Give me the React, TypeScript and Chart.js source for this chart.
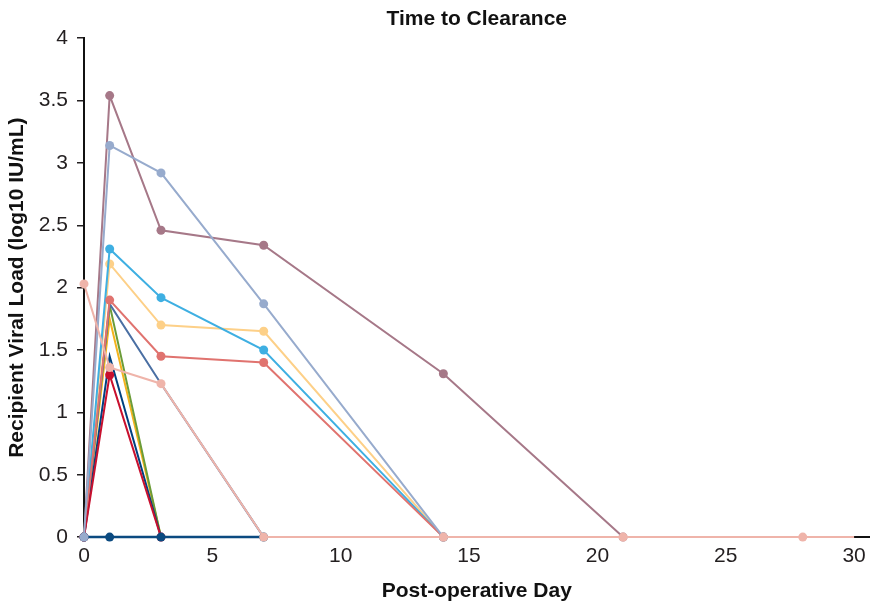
import React, { useEffect, useRef } from "react";
import { Chart, registerables } from "chart.js";

Chart.register(...registerables);

// ---- data ----
const xTicks = [0, 5, 10, 15, 20, 25, 30];
const yTicks = [0, 0.5, 1, 1.5, 2, 2.5, 3, 3.5, 4];

const pinkDays = [0, 1, 3, 7, 14, 21, 28, 30];
const pinkVals = [2.03, 1.36, 1.23, 0, 0, 0, 0, 0];

const blueGrayDays = [0, 1, 3, 7, 14];
const blueGrayVals = [0, 3.14, 2.92, 1.87, 0];

const baselineDays = [0, 1, 3, 7];
const baselineVals = [0, 0, 0, 0];

const crimsonDays = [0, 1, 3];
const crimsonVals = [0, 1.3, 0];

const coralDays = [0, 1, 3, 7, 14];
const coralVals = [0, 1.9, 1.45, 1.4, 0];

const mauveDays = [0, 1, 3, 7, 14, 21];
const mauveVals = [0, 3.54, 2.46, 2.34, 1.31, 0];

const cyanDays = [0, 1, 3, 7, 14];
const cyanVals = [0, 2.31, 1.92, 1.5, 0];

const orangeDays = [0, 1, 3, 7, 14];
const orangeVals = [0, 2.19, 1.7, 1.65, 0];

const navyDays = [0, 1, 3];
const navyVals = [0, 1.45, 0];

const slateDays = [0, 1, 3, 7];
const slateVals = [0, 1.87, 1.23, 0];

const greenDays = [0, 1, 3];
const greenVals = [0, 1.86, 0];

const goldDays = [0, 1, 3];
const goldVals = [0, 1.75, 0];

const FONT = "'Liberation Sans', Arial, Helvetica, sans-serif";

function pts(days: number[], vals: number[]) {
  return days.map((d, i) => ({ x: d, y: vals[i] }));
}

function ds(label: string, days: number[], vals: number[], color: string, radius: number | number[], width = 2) {
  return {
    label,
    data: pts(days, vals),
    borderColor: color,
    backgroundColor: color,
    pointBackgroundColor: color,
    pointBorderColor: color,
    pointBorderWidth: 0,
    pointRadius: radius,
    pointHoverRadius: radius,
    borderWidth: width,
    tension: 0,
    clip: false as any,
  };
}

export default function App() {
  const ref = useRef<HTMLCanvasElement | null>(null);

  useEffect(() => {
    document.body.style.margin = "0";
    const canvas = ref.current;
    if (!canvas) return;
    const chart = new Chart(canvas, {
      type: "line",
      data: {
        datasets: [
          ds("pink", pinkDays, pinkVals, "#efb4aa", pinkDays.map((d) => (d === 30 ? 0 : 4.5))),
          ds("bluegray", blueGrayDays, blueGrayVals, "#97abcd", 4.5),
          ds("baseline", baselineDays, baselineVals, "#0b4a80", 4.5, 2.5),
          ds("crimson", crimsonDays, crimsonVals, "#c8102e", 4.5),
          ds("coral", coralDays, coralVals, "#e0736f", 4.5),
          ds("mauve", mauveDays, mauveVals, "#a67888", 4.5),
          ds("cyan", cyanDays, cyanVals, "#3eafe2", 4.5),
          ds("orange", orangeDays, orangeVals, "#fdd088", 4.5),
          ds("navy", navyDays, navyVals, "#00417f", 0),
          ds("slate", slateDays, slateVals, "#4a6fa3", 0),
          ds("green", greenDays, greenVals, "#6b9c38", 0),
          ds("gold", goldDays, goldVals, "#f4b31d", 0),
        ] as any,
      },
      options: {
        animation: false,
        responsive: false,
        maintainAspectRatio: false,
        layout: { padding: { left: 0, right: -5, top: 0, bottom: 0 } },
        plugins: {
          legend: { display: false },
          tooltip: { enabled: false },
          title: {
            display: true,
            text: "Time to Clearance",
            fullSize: false,
            color: "#111",
            font: { family: FONT, size: 21, weight: "bold" },
            padding: { top: 7, bottom: 6 },
          },
        },
        scales: {
          x: {
            type: "linear",
            min: 0,
            max: 30.6,
            afterBuildTicks: (scale: any) => {
              scale.ticks = xTicks.map((v) => ({ value: v }));
            },
            grid: { display: false, drawTicks: true, tickLength: 7 },
            border: { display: true, color: "#111", width: 2 },
            ticks: {
              color: "#231f20",
              font: { family: FONT, size: 21 },
              padding: 0,
              maxRotation: 0,
              callback: (v: any) => String(v),
            },
            title: {
              display: true,
              text: "Post-operative Day",
              color: "#111",
              font: { family: FONT, size: 21, weight: "bold" },
              padding: { top: 9, bottom: 3.5 },
            },
          },
          y: {
            type: "linear",
            min: 0,
            max: 4,
            afterBuildTicks: (scale: any) => {
              scale.ticks = yTicks.map((v) => ({ value: v }));
            },
            grid: {
              display: true,
              drawOnChartArea: false,
              drawTicks: true,
              tickLength: 7,
              color: "#231f20",
              lineWidth: 1.5,
            },
            border: { display: true, color: "#111", width: 2 },
            ticks: {
              color: "#231f20",
              font: { family: FONT, size: 21 },
              padding: 9,
              callback: (v: any) => String(v),
            },
            title: {
              display: true,
              text: "Recipient Viral Load (log10 IU/mL)",
              color: "#111",
              font: { family: FONT, size: 21, weight: "bold" },
              padding: { top: 4.6, bottom: 0 },
            },
          },
        },
      } as any,
    });
    return () => chart.destroy();
  }, []);

  return (
    <div style={{ width: 874, height: 607, position: "relative", background: "#fff" }}>
      <canvas ref={ref} width={874} height={607} style={{ display: "block", width: 874, height: 607 }} />
    </div>
  );
}
